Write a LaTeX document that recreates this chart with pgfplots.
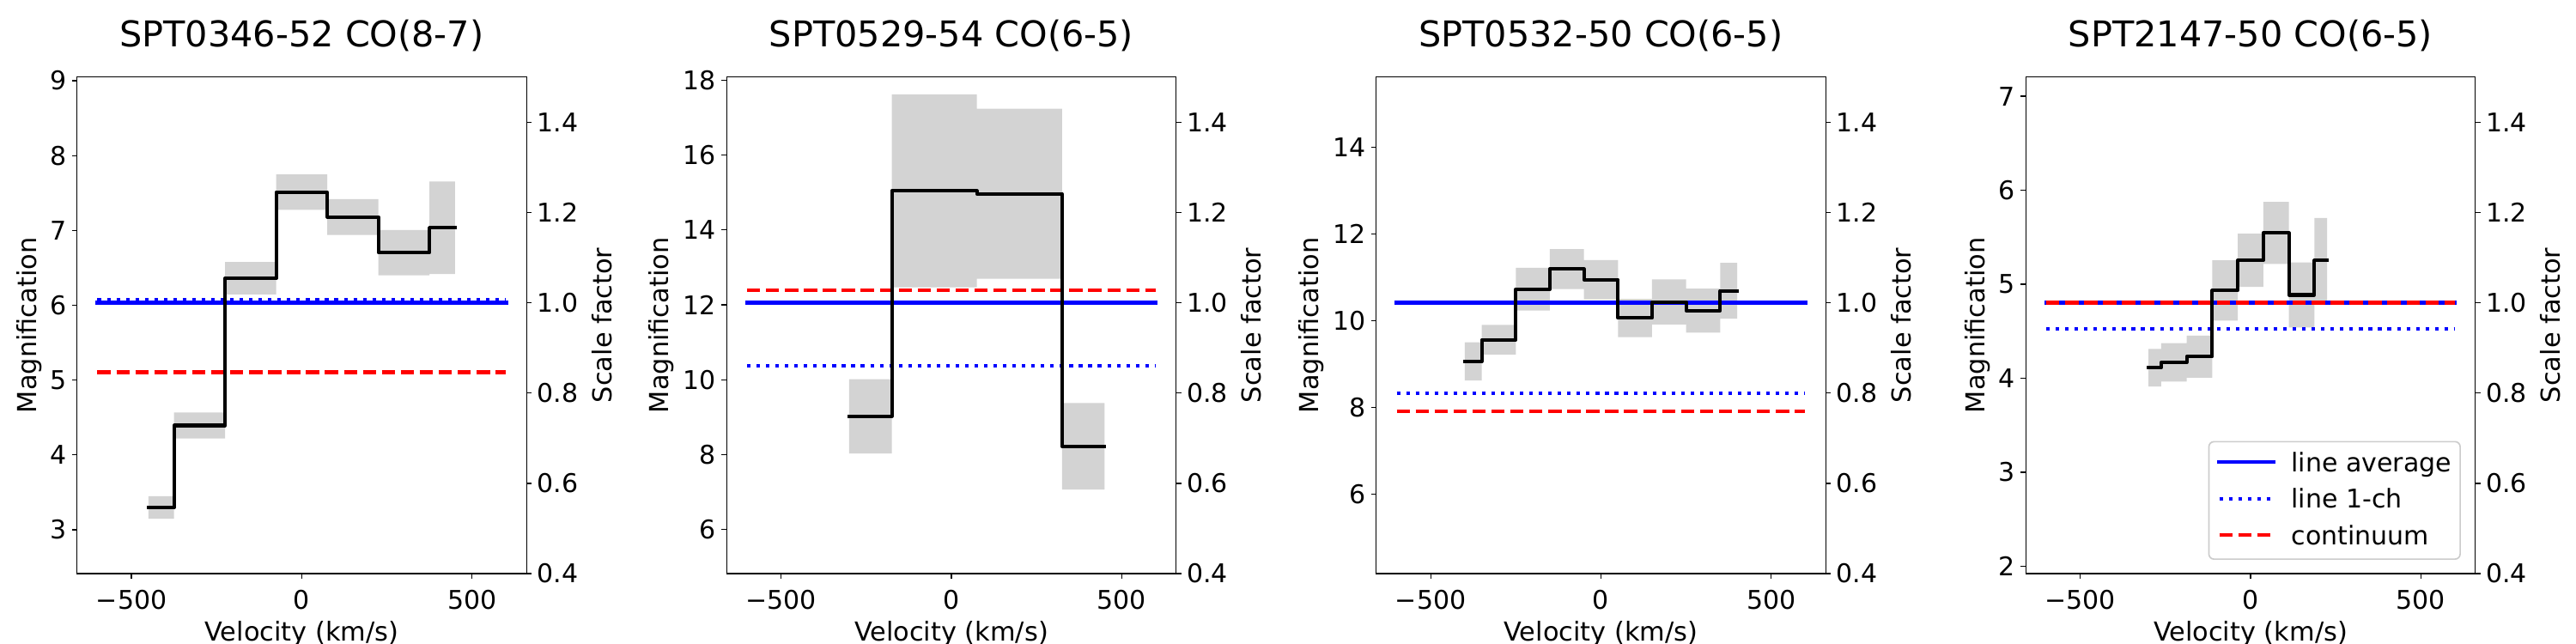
\documentclass[border=0pt]{standalone}
\usepackage{fontspec}
\setmainfont{DejaVu Sans}
\usepackage{pgfplots}
\pgfplotsset{compat=1.18}
\usepackage{pgfplotstable}
\usepgfplotslibrary{fillbetween}

\definecolor{errgray}{RGB}{211,211,211}
\definecolor{legframe}{RGB}{204,204,204}

\newcommand\tickfont{\fontsize{7.5pt}{9pt}\selectfont}
\newcommand\labfont{\fontsize{7.6pt}{9pt}\selectfont}
\newcommand\titfont{\fontsize{10.35pt}{12pt}\selectfont}

% Channel steps: left edge of each velocity channel (km/s), magnification,
% 1-sigma uncertainty; the last row closes the final channel.
\pgfplotstableread{
x m e
-450 3.296 0.151
-375 4.393 0.173
-225 6.360 0.217
-75 7.511 0.236
75 7.179 0.239
225 6.703 0.302
375 7.036 0.618
450 7.036 0.618
}\tabA
\pgfplotstableread{
x m e
-300 9.022 0.990
-175 15.044 2.575
75 14.967 2.270
325 8.220 1.154
450 8.220 1.154
}\tabB
\pgfplotstableread{
x m e
-400 9.062 0.441
-350 9.564 0.341
-250 10.730 0.493
-150 11.194 0.460
-50 10.948 0.455
50 10.066 0.441
150 10.436 0.521
250 10.237 0.508
350 10.695 0.644
400 10.695 0.644
}\tabC
\pgfplotstableread{
x m e
-300 4.112 0.200
-262.5 4.168 0.204
-187.5 4.230 0.224
-112.5 4.934 0.322
-37.5 5.254 0.283
37.5 5.547 0.330
112.5 4.886 0.346
187.5 5.254 0.452
225 5.254 0.452
}\tabD

\pgfplotsset{
  panel/.style={
    scale only axis, width=130.875pt, height=144.575pt, anchor=south west,
    xmin=-660, xmax=660,
    xtick={-500,0,500}, xticklabels={−500,0,500},
    xtick pos=left, ytick pos=left,
    tick align=outside, major tick length=1.46pt,
    axis line style={line width=0.33pt},
    tick style={line width=0.33pt, black},
    xticklabel style={font=\tickfont, inner sep=0pt, anchor=base, yshift=-8.8pt},
    yticklabel style={font=\tickfont, inner sep=0pt, anchor=east, xshift=-1.45pt,
      /pgf/number format/assume math mode=true},
    xlabel={Velocity (km/s)}, ylabel={Magnification},
    xlabel style={font=\labfont, inner sep=0pt, at={(axis description cs:0.5,0)}, anchor=base, yshift=-19.6pt},
    ylabel style={font=\labfont, inner sep=0pt, at={(axis description cs:0,0.5)}, anchor=base},
    title style={font=\titfont, inner sep=0pt, at={(axis description cs:0.5,1)}, anchor=base, yshift=2.7pt},
    legend image code/.code={\draw[#1] (0pt,0.5pt) -- (15.75pt,0.5pt);},
  },
  onedigit/.style={ylabel style={yshift=11.9pt}},
  twodigit/.style={ylabel style={yshift=16.9pt}},
  scaleax/.style={
    scale only axis, width=130.875pt, height=144.575pt, anchor=south west,
    xmin=-660, xmax=660, ymin=0.4, ymax=1.5,
    axis x line=none, axis y line*=right,
    tick align=outside, major tick length=1.46pt,
    axis line style={line width=0.33pt, -},
    tick style={line width=0.33pt, black},
    ytick={0.4,0.6,0.8,1.0,1.2,1.4}, yticklabels={0.4,0.6,0.8,1.0,1.2,1.4},
    yticklabel style={font=\tickfont, inner sep=0pt, anchor=west, xshift=1.45pt},
    ylabel={Scale factor},
    ylabel style={font=\labfont, inner sep=0pt, at={(axis description cs:1,0.5)}, anchor=base, yshift=-24.7pt},
  },
  errband/.style={draw=none, fill=errgray, forget plot},
  stepline/.style={black, line width=1.02pt, const plot mark left, line join=round, line cap=rect, forget plot},
  bandedge/.style={draw=none, const plot mark left, forget plot},
  avgline/.style={blue, line width=1.04pt, line cap=rect},
  onechline/.style={blue, line width=1.04pt, dash pattern=on 1.04pt off 1.72pt},
  contline/.style={red, line width=1.04pt, dash pattern=on 3.85pt off 1.67pt},
}

\begin{document}
\begin{tikzpicture}

% ---------- SPT0346-52 ----------
\begin{axis}[panel, onedigit, at={(22.425pt,20.5pt)}, ymin=2.413, ymax=9.050,
  ytick={3,4,5,6,7,8,9}, title={SPT0346-52 CO(8-7)}]
\addplot[bandedge, name path=upA] table[x=x, y expr=\thisrow{m}+\thisrow{e}] {\tabA};
\addplot[bandedge, name path=loA] table[x=x, y expr=\thisrow{m}-\thisrow{e}] {\tabA};
\addplot[errband] fill between[of=upA and loA];
\addplot[avgline] coordinates {(-600,6.033) (600,6.033)};
\addplot[onechline] coordinates {(-600,6.077) (600,6.077)};
\addplot[contline] coordinates {(-600,5.104) (600,5.104)};
\addplot[stepline] table[x=x, y=m] {\tabA};
\end{axis}
\begin{axis}[scaleax, at={(22.425pt,20.5pt)}]
\addplot[draw=none, forget plot] coordinates {(-600,1.0) (600,1.0)};
\end{axis}

% ---------- SPT0529-54 ----------
\begin{axis}[panel, twodigit, at={(211.55pt,20.5pt)}, ymin=4.822, ymax=18.083,
  ytick={6,8,10,12,14,16,18}, title={SPT0529-54 CO(6-5)}]
\addplot[bandedge, name path=upB] table[x=x, y expr=\thisrow{m}+\thisrow{e}] {\tabB};
\addplot[bandedge, name path=loB] table[x=x, y expr=\thisrow{m}-\thisrow{e}] {\tabB};
\addplot[errband] fill between[of=upB and loB];
\addplot[avgline] coordinates {(-600,12.055) (600,12.055)};
\addplot[onechline] coordinates {(-600,10.374) (600,10.374)};
\addplot[contline] coordinates {(-600,12.396) (600,12.396)};
\addplot[stepline] table[x=x, y=m] {\tabB};
\end{axis}
\begin{axis}[scaleax, at={(211.55pt,20.5pt)}]
\addplot[draw=none, forget plot] coordinates {(-600,1.0) (600,1.0)};
\end{axis}

% ---------- SPT0532-50 ----------
\begin{axis}[panel, twodigit, at={(400.675pt,20.5pt)}, ymin=4.167, ymax=15.626,
  ytick={6,8,10,12,14}, title={SPT0532-50 CO(6-5)}]
\addplot[bandedge, name path=upC] table[x=x, y expr=\thisrow{m}+\thisrow{e}] {\tabC};
\addplot[bandedge, name path=loC] table[x=x, y expr=\thisrow{m}-\thisrow{e}] {\tabC};
\addplot[errband] fill between[of=upC and loC];
\addplot[avgline] coordinates {(-600,10.417) (600,10.417)};
\addplot[onechline] coordinates {(-600,8.322) (600,8.322)};
\addplot[contline] coordinates {(-600,7.915) (600,7.915)};
\addplot[stepline] table[x=x, y=m] {\tabC};
\end{axis}
\begin{axis}[scaleax, at={(400.675pt,20.5pt)}]
\addplot[draw=none, forget plot] coordinates {(-600,1.0) (600,1.0)};
\end{axis}

% ---------- SPT2147-50 ----------
\begin{axis}[panel, onedigit, at={(589.8pt,20.5pt)}, ymin=1.921, ymax=7.205,
  ytick={2,3,4,5,6,7}, title={SPT2147-50 CO(6-5)},
  legend style={at={(axis description cs:1,0)}, anchor=south east, xshift=-4.2pt, yshift=4pt,
    draw=legframe, line width=0.42pt, rounded corners=1.5pt, fill=white,
    inner xsep=2.5pt, inner ysep=1.5pt, row sep=0.6pt, column sep=4.75pt,
    font=\tickfont, nodes={inner sep=0pt, text height=7.25pt, text depth=2.75pt},
    cells={anchor=west}}]
\addplot[bandedge, name path=upD] table[x=x, y expr=\thisrow{m}+\thisrow{e}] {\tabD};
\addplot[bandedge, name path=loD] table[x=x, y expr=\thisrow{m}-\thisrow{e}] {\tabD};
\addplot[errband] fill between[of=upD and loD];
\addplot[avgline] coordinates {(-600,4.803) (600,4.803)};
\addlegendentry{line average}
\addplot[onechline] coordinates {(-600,4.523) (600,4.523)};
\addlegendentry{line 1-ch}
\addplot[contline] coordinates {(-600,4.803) (600,4.803)};
\addlegendentry{continuum}
\addplot[stepline] table[x=x, y=m] {\tabD};
\end{axis}
\begin{axis}[scaleax, at={(589.8pt,20.5pt)}]
\addplot[draw=none, forget plot] coordinates {(-600,1.0) (600,1.0)};
\end{axis}

% fixed page frame
\pgfresetboundingbox
\useasboundingbox (0,0) rectangle (750pt,187.5pt);
\end{tikzpicture}
\end{document}
